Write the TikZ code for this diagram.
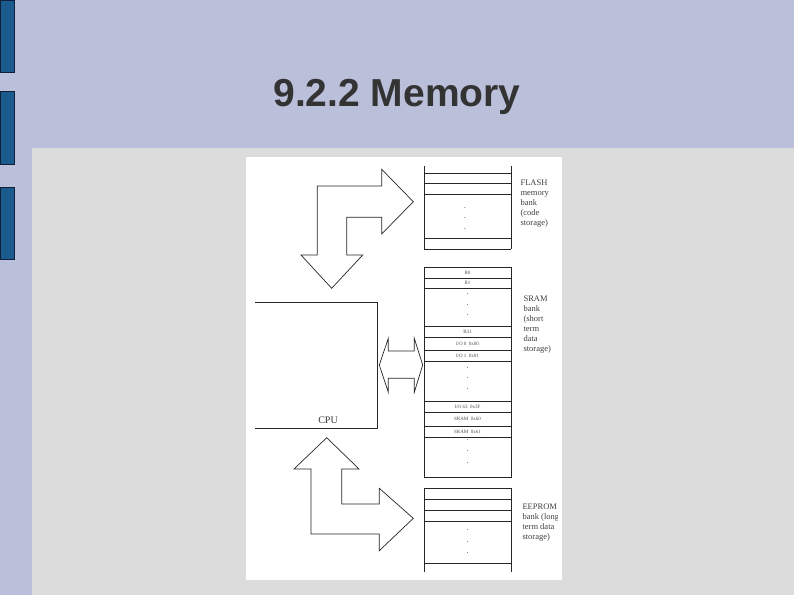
\documentclass[tikz,border=0pt]{standalone}
\usepackage{fontspec}
\setmainfont{Liberation Serif}
\newfontfamily\titlefont{Liberation Sans}
\begin{document}
\begin{tikzpicture}[x=1pt,y=-1pt,
  line/.style={draw=black!85,line width=0.7pt},
  cell/.style={font=\fontsize{5}{5}\selectfont,text=black!70},
  side/.style={font=\fontsize{8.5}{10}\selectfont,text=black!75,align=left,anchor=north west},
  dot/.style={font=\fontsize{7}{7}\selectfont}]
\useasboundingbox (0,0) rectangle (794,595);
\fill[fill={rgb,255:red,186;green,191;blue,218}] (0,0) rectangle (794,595);
\fill[fill={rgb,255:red,220;green,220;blue,220}] (32,148) rectangle (794,595);
\foreach \a/\b in {0/72,91/164,187/259}
  \filldraw[fill={rgb,255:red,26;green,90;blue,140},draw={rgb,255:red,15;green,30;blue,60},line width=0.6pt] (0,\a) rectangle (14,\b);
\node[font=\titlefont\bfseries\fontsize{39}{39}\selectfont,text=black!80] (title) at (397,97) {9.2.2 Memory};
\fill[white] (246,157) rectangle (562,580);
% FLASH
\draw[line] (424,166) -- (424,249) (511,166) -- (511,249);
\foreach \y in {173,183,194,238,249} \draw[line] (424,\y) -- (511,\y);
\foreach \y in {208,218,229} \node[dot] at (465,\y) {.};
\node[side] (flash) at (517,176) {FLASH\\memory\\bank\\(code\\storage)};
% SRAM
\draw[line] (424,267) rectangle (511,477);
\foreach \y in {278,288,326,337,350,361,401,412,426,437} \draw[line] (424,\y) -- (511,\y);
\node[cell] at (467.5,272.5) {R0};
\node[cell] at (467.5,283) {R1};
\node[cell] at (467.5,331.5) {R31};
\node[cell] at (467.5,343.5) {I/O 0\ \ 0x00};
\node[cell] at (467.5,355.5) {I/O 1\ \ 0x01};
\node[cell] at (467.5,406.5) {I/O 63\ \ 0x3F};
\node[cell] at (467.5,419) {SRAM\ \ 0x60};
\node[cell] at (467.5,431.5) {SRAM\ \ 0x61};
\foreach \y in {294,305,315,368,378,389,440,451,463} \node[dot] at (467.5,\y) {.};
\node[side] (sram) at (520,292) {SRAM\\bank\\(short\\term\\data\\storage)};
% EEPROM
\draw[line] (424,488) -- (424,572) (511,488) -- (511,572);
\foreach \y in {488,499,510,521,563} \draw[line] (424,\y) -- (511,\y);
\foreach \y in {530,542,553} \node[dot] at (467.5,\y) {.};
\begin{scope}
\clip (246,157) rectangle (557,580);
\node[side] (eeprom) at (519,500) {EEPROM\\bank (long\\term data\\storage)};
\end{scope}
% CPU
\draw[line] (255,302) -- (377,302) -- (377,428) -- (255,428);
\node[font=\fontsize{10}{10}\selectfont,text=black!80] (cpu) at (328,420) {CPU};
% arrows
\draw[line,line join=miter] (317.3,186) -- (381.7,186) -- (381.7,169.3) -- (413.3,201.7) -- (381.7,234) -- (381.7,217.3) -- (346.7,217.3) -- (346.7,255) -- (362.7,255) -- (331.7,288.3) -- (301,255) -- (317.3,255) -- cycle;
\draw[line,line join=miter] (326.7,437.7) -- (359,469) -- (341.7,469) -- (341.7,504) -- (379.3,504) -- (379.3,488.3) -- (413.3,518.3) -- (379.3,550.7) -- (379.3,534) -- (311,534) -- (311,469) -- (294,469) -- cycle;
\draw[line,line join=miter] (379.3,365) -- (388.3,338.3) -- (388.3,351) -- (414.3,351) -- (414.3,338.3) -- (422.7,365) -- (414.3,392.3) -- (414.3,378.3) -- (388.3,378.3) -- (388.3,392.3) -- cycle;
\end{tikzpicture}
\end{document}
